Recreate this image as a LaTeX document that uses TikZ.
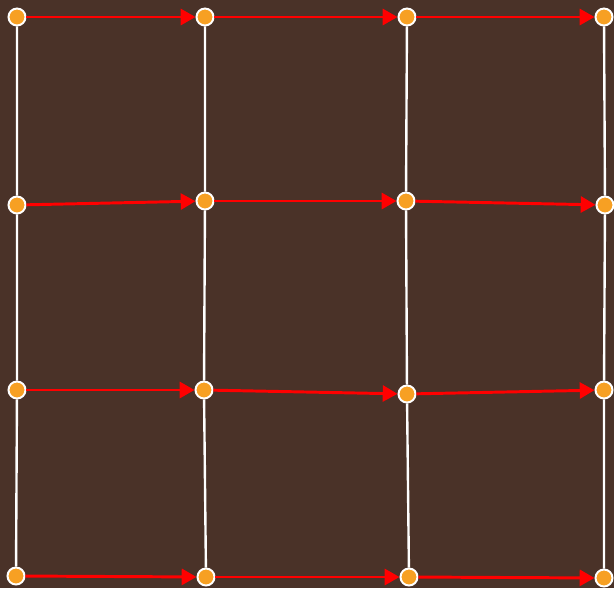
\documentclass[tikz,border=0pt]{standalone}
\usepackage{tikz}
\usetikzlibrary{arrows.meta,positioning}
\definecolor{fondbrun}{HTML}{4A3228}
\definecolor{orangept}{HTML}{F7A023}
\begin{document}
\begin{tikzpicture}[x=0.025cm,y=-0.025cm,
				pt/.style={circle,draw=white,line width=1.4pt,fill=orangept,inner sep=0pt,minimum size=0.425cm},
				vert/.style={draw=white,line width=1.7pt},
				fl/.style={draw=red,line width=2.1pt,-{Triangle[length=0.37cm,width=0.4cm]}}]
				\fill[fondbrun] (0,0) rectangle (614,588);
				\useasboundingbox (0,0) rectangle (614,588);
				\node[pt] (a1) at (17,17) {};
				\node[pt] (a2) at (205,17) {};
				\node[pt] (a3) at (407,17) {};
				\node[pt] (a4) at (604,17) {};
				\node[pt] (b1) at (17,205) {};
				\node[pt] (b2) at (205,201) {};
				\node[pt] (b3) at (406,201) {};
				\node[pt] (b4) at (605,205) {};
				\node[pt] (c1) at (17,390) {};
				\node[pt] (c2) at (204,390) {};
				\node[pt] (c3) at (407,394) {};
				\node[pt] (c4) at (604,390) {};
				\node[pt] (d1) at (16,576) {};
				\node[pt] (d2) at (206,577) {};
				\node[pt] (d3) at (409,577) {};
				\node[pt] (d4) at (604,578) {};
				% colonnes
				\draw[vert] (a1)--(b1) (b1)--(c1) (c1)--(d1);
				\draw[vert] (a2)--(b2) (b2)--(c2) (c2)--(d2);
				\draw[vert] (a3)--(b3) (b3)--(c3) (c3)--(d3);
				\draw[vert] (a4)--(b4) (b4)--(c4) (c4)--(d4);
				% lignes
				\draw[fl] (a1)--(a2); \draw[fl] (a2)--(a3); \draw[fl] (a3)--(a4);
				\draw[fl] (b1)--(b2); \draw[fl] (b2)--(b3); \draw[fl] (b3)--(b4);
				\draw[fl] (c1)--(c2); \draw[fl] (c2)--(c3); \draw[fl] (c3)--(c4);
				\draw[fl] (d1)--(d2); \draw[fl] (d2)--(d3); \draw[fl] (d3)--(d4);
			\end{tikzpicture}
\end{document}
